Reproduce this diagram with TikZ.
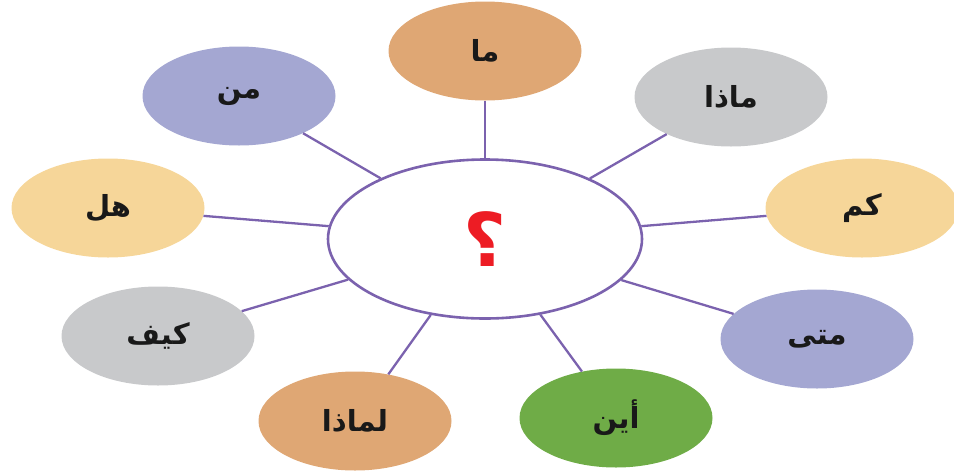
\documentclass[tikz,border=0pt]{standalone}
\usepackage{fontspec}
\usetikzlibrary{shapes.geometric}
\TeXXeTstate=1
\newfontfamily\arabicfont[Script=Arabic]{DejaVu Sans}
\definecolor{tanC}{HTML}{DFA774}
\definecolor{grayC}{HTML}{C8C9CB}
\definecolor{yellowC}{HTML}{F6D699}
\definecolor{lavC}{HTML}{A4A7D2}
\definecolor{greenC}{HTML}{6FAC47}
\definecolor{lineC}{HTML}{7B62AE}
\definecolor{qred}{HTML}{ED1C24}
\tikzset{
  leaf/.style={ellipse, minimum width=193pt, minimum height=99pt, inner sep=0pt,
    font=\arabicfont\bfseries\fontsize{29}{32}\selectfont, text=black!90},
  hub/.style={ellipse, draw=lineC, line width=2.6pt, fill=white, minimum width=314pt, minimum height=159pt, inner sep=0pt},
  link/.style={draw=lineC, line width=2.3pt}
}
\newcommand{\ar}[1]{\beginR #1\endR}
\begin{document}
\begin{tikzpicture}[x=1pt,y=-1pt]
\useasboundingbox (0,0) rectangle (954,475);
\node[hub] (c) at (485,239) {};
\node[leaf, fill=tanC] (ma) at (485,51) {\ar{ما}};
\node[leaf, fill=grayC] (mada) at (731,97) {\ar{ماذا}};
\node[leaf, fill=yellowC] (kam) at (862,208) {\ar{كم}};
\node[leaf, fill=lavC] (mata) at (817,339) {\ar{متى}};
\node[leaf, fill=greenC] (ayna) at (616,418) {\ar{أين}};
\node[leaf, fill=tanC] (limada) at (355,421) {\ar{لماذا}};
\node[leaf, fill=grayC] (kayfa) at (158,336) {\ar{كيف}};
\node[leaf, fill=yellowC] (hal) at (108,208) {\ar{هل}};
\node[leaf, fill=lavC] (man) at (239,96) {\ar{من}};
\node[text=qred, font=\arabicfont\bfseries\fontsize{74}{80}\selectfont] (q) at (c) {\ar{؟}};
\foreach \n in {ma,mada,kam,mata,ayna,limada,kayfa,hal,man}
  \draw[link] (c) -- (\n);
\end{tikzpicture}
\end{document}
